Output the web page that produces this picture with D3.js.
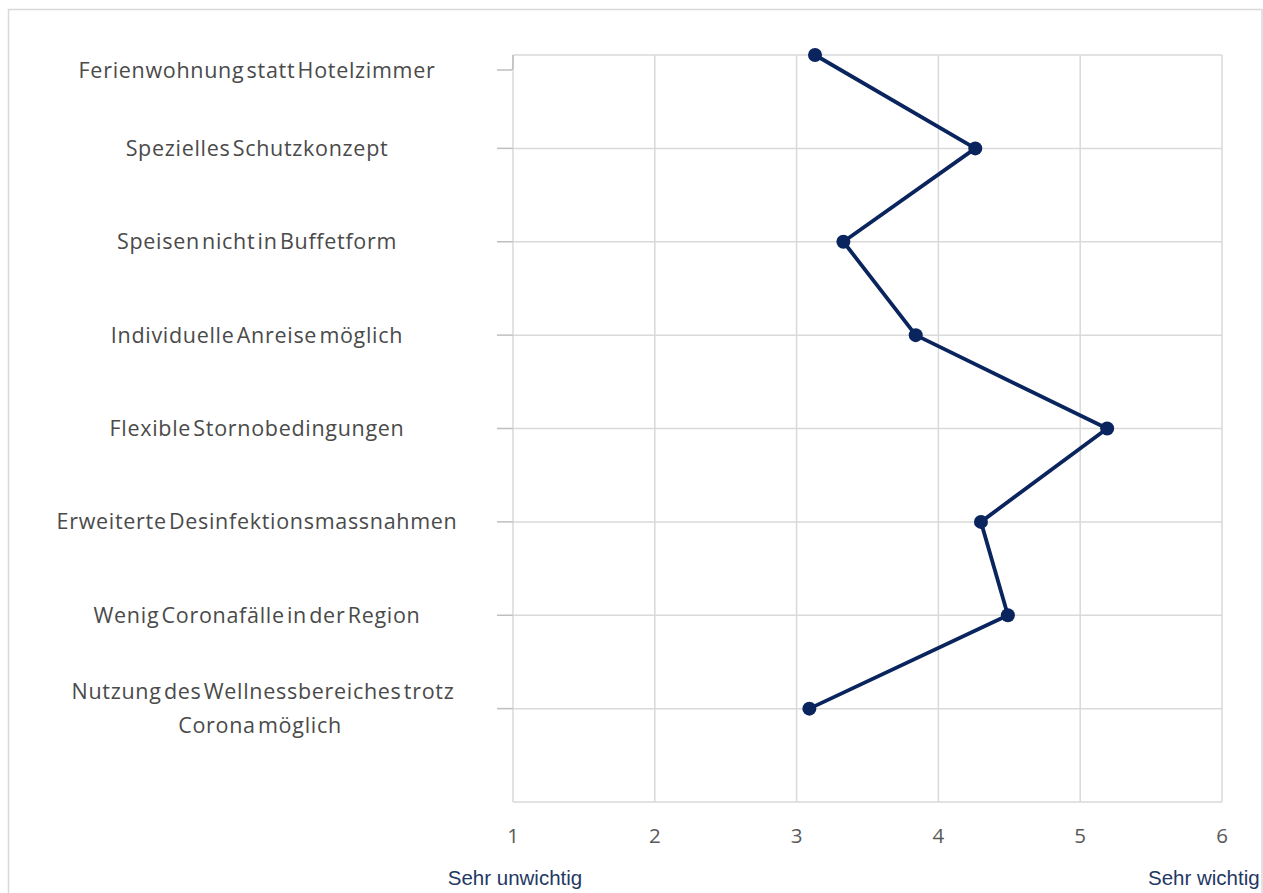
<!DOCTYPE html>
<html>
<head>
<meta charset="utf-8">
<script src="https://cdn.jsdelivr.net/npm/d3@7"></script>
<style>
  html, body { margin: 0; padding: 0; background: #ffffff; }
  svg { display: block; }
</style>
</head>
<body>
<svg id="chart" width="1263" height="893"></svg>
<script>
// Survey items (top to bottom) and their mean importance ratings (1 = sehr unwichtig, 6 = sehr wichtig)
const categories = [
  "Ferienwohnung statt Hotelzimmer",
  "Spezielles Schutzkonzept",
  "Speisen nicht in Buffetform",
  "Individuelle Anreise möglich",
  "Flexible Stornobedingungen",
  "Erweiterte Desinfektionsmassnahmen",
  "Wenig Coronafälle in der Region",
  "Nutzung des Wellnessbereiches trotz Corona möglich"
];
const values = [3.13, 4.26, 3.33, 3.84, 5.19, 4.30, 4.49, 3.09];
const tickValues = [1, 2, 3, 4, 5, 6];
const endLabels = ["Sehr unwichtig", "Sehr wichtig"];

const svg = d3.select("#chart");
const plot = { left: 513, right: 1222, top: 55, bottom: 802 };

const labelFont = "'Open Sans', Lato, sans-serif";
const gridColor = "#d9d9d9";
const lineColor = "#0a245e";

// outer chart frame
svg.append("rect")
  .attr("x", 8.5).attr("y", 9.5)
  .attr("width", 1262 - 8.5).attr("height", 900)
  .attr("fill", "none").attr("stroke", gridColor).attr("stroke-width", 1.5);

const x = d3.scaleLinear().domain([1, 6]).range([plot.left, plot.right]);
const y = d3.scaleBand().domain(categories).range([plot.top, plot.bottom])
  .paddingInner(0).paddingOuter(0).align(0);
const yPos = d => y(d);

// vertical gridlines at every value tick
svg.append("g").selectAll("line").data(tickValues).join("line")
  .attr("x1", d => x(d)).attr("x2", d => x(d))
  .attr("y1", plot.top).attr("y2", plot.bottom)
  .attr("stroke", gridColor).attr("stroke-width", 1.5);

// horizontal gridlines at each category plus the bottom edge
const hLines = categories.map(yPos).concat([plot.bottom]);
svg.append("g").selectAll("line").data(hLines).join("line")
  .attr("x1", plot.left).attr("x2", plot.right)
  .attr("y1", d => d).attr("y2", d => d)
  .attr("stroke", gridColor).attr("stroke-width", 1.5);

// category tick marks left of the value area
svg.append("g").selectAll("path").data(categories).join("path")
  .attr("d", (d, i) => i === 0
    ? `M${plot.left - 16},${yPos(d) + 15}H${plot.left - 2}Q${plot.left},${yPos(d) + 15} ${plot.left},${yPos(d) + 11}V${yPos(d)}`
    : `M${plot.left - 16},${yPos(d)}H${plot.left}`)
  .attr("fill", "none").attr("stroke", "#bfbfbf").attr("stroke-width", 1.5);

// category labels
const labelX = 257;
const lg = svg.append("g")
  .attr("font-family", labelFont).attr("font-size", 21.5)
  .attr("letter-spacing", "0.7px").attr("word-spacing", "-4px")
  .attr("fill", "#4a4a4a").attr("text-anchor", "middle");
categories.forEach((c, i) => {
  const cy = yPos(c) + (i === 0 ? 15 : 0);
  const t = lg.append("text").attr("x", labelX).attr("y", cy);
  if (i === categories.length - 1) {
    t.append("tspan").attr("x", labelX + 6).attr("dy", "-0.45em").text("Nutzung des Wellnessbereiches trotz");
    t.append("tspan").attr("x", labelX + 3).attr("dy", "1.58em").text("Corona möglich");
  } else {
    t.attr("dy", "0.35em").text(c);
  }
});

// value axis numbers
svg.append("g").selectAll("text").data(tickValues).join("text")
  .attr("x", d => x(d)).attr("y", 836).attr("dy", "0.35em")
  .attr("text-anchor", "middle")
  .attr("font-family", labelFont).attr("font-size", 20.5)
  .attr("fill", "#595959")
  .text(d => d);

// scale end descriptions
svg.append("g").selectAll("text").data(endLabels).join("text")
  .attr("x", (d, i) => i === 0 ? x(1) + 2 : x(6) - 74)
  .attr("y", 878).attr("dy", "0.35em")
  .attr("text-anchor", (d, i) => i === 0 ? "middle" : "start")
  .attr("font-family", "'Liberation Sans', Arial, sans-serif").attr("font-size", 20.5)
  .attr("fill", "#1f3864")
  .text(d => d);

// data line and markers
const pts = categories.map((c, i) => [x(values[i]), yPos(c)]);
svg.append("path")
  .attr("d", d3.line()(pts))
  .attr("fill", "none").attr("stroke", lineColor)
  .attr("stroke-width", 3.8).attr("stroke-linejoin", "round");
svg.append("g").selectAll("circle").data(pts).join("circle")
  .attr("cx", d => d[0]).attr("cy", d => d[1]).attr("r", 7)
  .attr("fill", lineColor);
</script>
</body>
</html>
